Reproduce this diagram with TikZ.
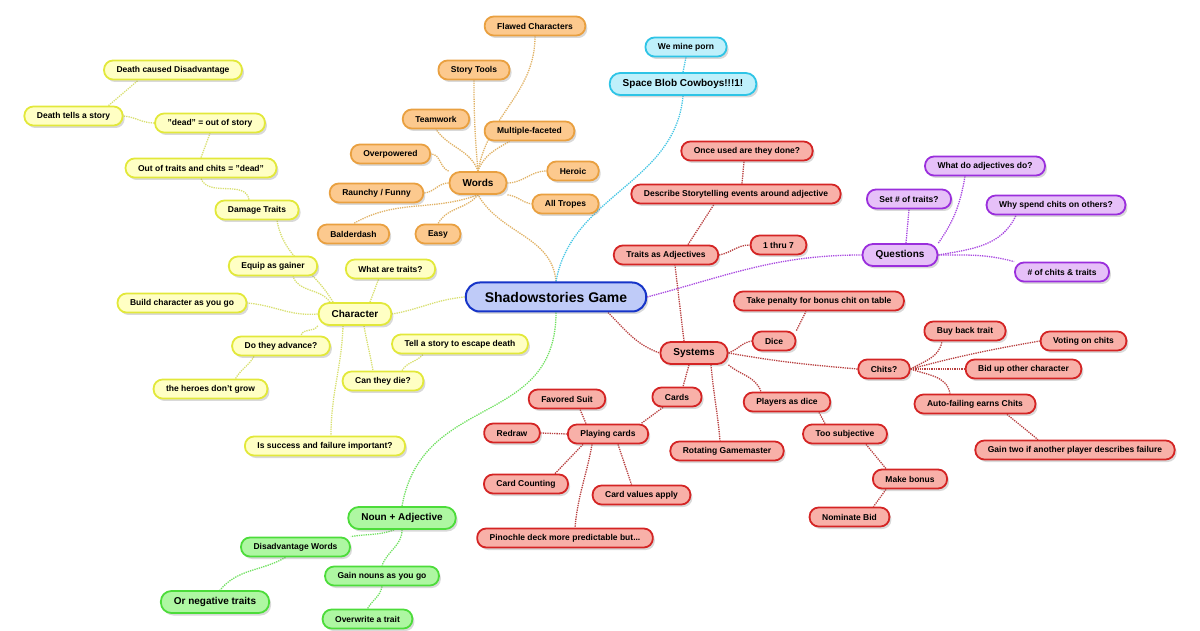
\documentclass[tikz,border=0pt]{standalone}
\usepackage{fontspec}
\setmainfont{Liberation Sans}
\usepackage{tikz}
\usetikzlibrary{backgrounds}
\usetikzlibrary{shadows}
\usepackage{xcolor}
\definecolor{yelFill}{HTML}{FFFFC4}
\definecolor{yelDraw}{HTML}{E2E83A}
\definecolor{yelLink}{HTML}{D8DF70}
\definecolor{orgFill}{HTML}{FCC98E}
\definecolor{orgDraw}{HTML}{E9A040}
\definecolor{orgLink}{HTML}{E0B266}
\definecolor{cyaFill}{HTML}{BFF0FB}
\definecolor{cyaDraw}{HTML}{2EC4E6}
\definecolor{cyaLink}{HTML}{46C6E4}
\definecolor{redFill}{HTML}{F8B0A8}
\definecolor{redDraw}{HTML}{D42424}
\definecolor{redLink}{HTML}{B84040}
\definecolor{purFill}{HTML}{E6C0F8}
\definecolor{purDraw}{HTML}{9A2EDC}
\definecolor{purLink}{HTML}{A848E0}
\definecolor{grnFill}{HTML}{AEF7A2}
\definecolor{grnDraw}{HTML}{4CDC3A}
\definecolor{grnLink}{HTML}{70E060}
\definecolor{bluFill}{HTML}{BFCBF8}
\definecolor{bluDraw}{HTML}{1634C8}
\tikzset{mybox/.style={draw, line width=1.8pt, rounded corners=9pt, minimum height=19pt, inner xsep=12.5pt, inner ysep=2pt, font=\fontsize{8.5}{10}\selectfont\bfseries, drop shadow={opacity=0.3, shadow xshift=2pt, shadow yshift=-2.5pt}}}
\tikzset{myboxBig/.style={minimum height=22pt, rounded corners=10.5pt, inner xsep=13pt, font=\fontsize{10}{12}\selectfont\bfseries}}
\tikzset{myboxYel/.style={mybox, draw=yelDraw, fill=yelFill}}
\tikzset{myboxOrg/.style={mybox, draw=orgDraw, fill=orgFill}}
\tikzset{myboxCya/.style={mybox, draw=cyaDraw, fill=cyaFill}}
\tikzset{myboxRed/.style={mybox, draw=redDraw, fill=redFill}}
\tikzset{myboxPur/.style={mybox, draw=purDraw, fill=purFill}}
\tikzset{myboxGrn/.style={mybox, draw=grnDraw, fill=grnFill}}
\tikzset{myboxCtr/.style={mybox, draw=bluDraw, fill=bluFill, line width=2pt, minimum height=29pt, rounded corners=14pt, inner xsep=19pt, font=\fontsize{14}{16}\selectfont\bfseries}}
\tikzset{mylink/.style={densely dotted, line width=1.3pt}}
\tikzset{mylinkYel/.style={mylink, yelLink}}
\tikzset{mylinkOrg/.style={mylink, orgLink}}
\tikzset{mylinkCya/.style={mylink, cyaLink}}
\tikzset{mylinkRed/.style={mylink, redLink}}
\tikzset{mylinkPur/.style={mylink, purLink}}
\tikzset{mylinkGrn/.style={mylink, grnLink}}

\begin{document}
\begin{tikzpicture}[x=1pt, y=1pt]

\useasboundingbox (0, 0) rectangle (1200, 630);

\node[myboxCtr] (ctr) at (556, 333) {Shadowstories Game};

% words
\node[myboxOrg, myboxBig] (words) at (478, 447) {Words};
\node[myboxOrg] (flawed) at (535, 604) {Flawed Characters};
\node[myboxOrg] (storytools) at (474, 560) {Story Tools};
\node[myboxOrg] (teamwork) at (436, 511) {Teamwork};
\node[myboxOrg] (multi) at (529.5, 499) {Multiple-faceted};
\node[myboxOrg] (overpowered) at (390.5, 476) {Overpowered};
\node[myboxOrg] (heroic) at (573, 459) {Heroic};
\node[myboxOrg] (raunchy) at (376.5, 437) {Raunchy / Funny};
\node[myboxOrg] (tropes) at (565.5, 426) {All Tropes};
\node[myboxOrg] (balderdash) at (353.5, 396) {Balderdash};
\node[myboxOrg] (easy) at (438, 396) {Easy};

\node[myboxCya] (mineporn) at (686, 583) {We mine porn};
\node[myboxCya, myboxBig] (spaceblob) at (683, 546) {Space Blob Cowboys!!!1!};

% character
\node[myboxYel, myboxBig] (character) at (355, 316) {Character};
\node[myboxYel] (deathdis) at (173, 560) {Death caused Disadvantage};
\node[myboxYel] (deathtells) at (73.5, 514) {Death tells a story};
\node[myboxYel] (deadout) at (210, 507) {"dead" = out of story};
\node[myboxYel] (outoftraits) at (201, 462) {Out of traits and chits = "dead"};
\node[myboxYel] (damage) at (257, 420) {Damage Traits};
\node[myboxYel] (equip) at (273, 364) {Equip as gainer};
\node[myboxYel] (whattraits) at (390.5, 361) {What are traits?};
\node[myboxYel] (build) at (182, 327) {Build character as you go};
\node[myboxYel] (advance) at (281, 284) {Do they advance?};
\node[myboxYel] (escape) at (460, 286) {Tell a story to escape death};
\node[myboxYel] (heroes) at (210.5, 241) {the heroes don't grow};
\node[myboxYel] (die) at (383, 249) {Can they die?};
\node[myboxYel] (success) at (325, 184) {Is success and failure important?};

% noun
\node[myboxGrn, myboxBig] (noun) at (402, 112) {Noun + Adjective};
\node[myboxGrn] (disadv) at (295.5, 83) {Disadvantage Words};
\node[myboxGrn, myboxBig] (negative) at (215, 28) {Or negative traits};
\node[myboxGrn] (gainnouns) at (382, 54) {Gain nouns as you go};
\node[myboxGrn] (overwrite) at (367.5, 11) {Overwrite a trait};

% systems
\node[myboxRed, myboxBig] (systems) at (694, 277) {Systems};
\node[myboxRed] (onceused) at (747, 479) {Once used are they done?};
\node[myboxRed] (describe) at (736, 436) {Describe Storytelling events around adjective};
\node[myboxRed] (adjectives) at (666, 375) {Traits as Adjectives};
\node[myboxRed] (thru) at (778.5, 385) {1 thru 7};
\node[myboxRed] (penalty) at (819, 329) {Take penalty for bonus chit on table};
\node[myboxRed] (dice) at (774, 289) {Dice};
\node[myboxRed] (chits) at (884, 261) {Chits?};
\node[myboxRed] (buyback) at (965, 299) {Buy back trait};
\node[myboxRed] (voting) at (1083.5, 289) {Voting on chits};
\node[myboxRed] (bidup) at (1023.5, 261) {Bid up other character};
\node[myboxRed] (autofail) at (975, 226) {Auto-failing earns Chits};
\node[myboxRed] (gaintwo) at (1075, 180) {Gain two if another player describes failure};
\node[myboxRed] (cards) at (677, 233) {Cards};
\node[myboxRed] (favored) at (567, 231) {Favored Suit};
\node[myboxRed] (players) at (787, 228) {Players as dice};
\node[myboxRed] (redraw) at (512, 197) {Redraw};
\node[myboxRed] (playing) at (608, 196) {Playing cards};
\node[myboxRed] (subjective) at (845, 196) {Too subjective};
\node[myboxRed] (rotating) at (727, 179) {Rotating Gamemaster};
\node[myboxRed] (counting) at (526, 146) {Card Counting};
\node[myboxRed] (values) at (641.5, 135) {Card values apply};
\node[myboxRed] (makebonus) at (910, 151) {Make bonus};
\node[myboxRed] (nominate) at (849.5, 113) {Nominate Bid};
\node[myboxRed] (pinochle) at (565, 92) {Pinochle deck more predictable but...};

% questions
\node[myboxPur, myboxBig] (questions) at (900, 375) {Questions};
\node[myboxPur] (adjdo) at (985, 464) {What do adjectives do?};
\node[myboxPur] (settraits) at (909, 431) {Set \# of traits?};
\node[myboxPur] (whyspend) at (1056, 425) {Why spend chits on others?};
\node[myboxPur] (numchits) at (1062, 358) {\# of chits \& traits};

\begin{scope}[on background layer]
\draw[mylinkOrg] (ctr.north) to[out=95, in=-60] (words.south);
\draw[mylinkOrg] (words.north) to[out=80, in=-90] (flawed.south);
\draw[mylinkOrg] (words.north) to[out=95, in=-90] (storytools.south);
\draw[mylinkOrg] (words.north) to[out=110, in=-55] (teamwork.south);
\draw[mylinkOrg] (words.north) to[out=70, in=-150] ([xshift=-20pt]multi.south);
\draw[mylinkOrg] (words.north west) to[out=160, in=0] (overpowered.east);
\draw[mylinkOrg] (words.west) to[out=180, in=5] (raunchy.east);
\draw[mylinkOrg] (words.east) to[out=0, in=180] (heroic.west);
\draw[mylinkOrg] (words.south east) to[out=-5, in=170] (tropes.west);
\draw[mylinkOrg] (words.south) to[out=-160, in=30] (balderdash.north);
\draw[mylinkOrg] (words.south) to[out=-130, in=60] (easy.north);

\draw[mylinkCya] (ctr.north) to[out=80, in=-95] (spaceblob.south);
\draw[mylinkCya] (spaceblob.north) -- (mineporn.south);

\draw[mylinkYel] (ctr.west) to[out=185, in=10] (character.east);
\draw[mylinkYel] ([xshift=15pt]character.north) -- ([xshift=-12pt]whattraits.south);
\draw[mylinkYel] ([xshift=-25pt]character.north) to[out=125, in=-70] ([xshift=20pt]equip.south);
\draw[mylinkYel] ([xshift=-22pt]character.north) to[out=120, in=-80] ([xshift=20pt]damage.south);
\draw[mylinkYel] ([xshift=-8pt]damage.north) to[out=100, in=-70] (outoftraits.south);
\draw[mylinkYel] (outoftraits.north) -- (deadout.south);
\draw[mylinkYel] (deadout.west) to[out=180, in=-5] (deathtells.east);
\draw[mylinkYel] ([xshift=35pt]deathtells.north) -- ([xshift=-35pt]deathdis.south);
\draw[mylinkYel] (character.west) to[out=185, in=-5] (build.east);
\draw[mylinkYel] (character.south west) to[out=-120, in=80] ([xshift=20pt]advance.north);
\draw[mylinkYel] ([xshift=-27pt]advance.south) to[out=-120, in=60] ([xshift=25pt]heroes.north);
\draw[mylinkYel] ([xshift=9pt]character.south) to[out=-80, in=100] ([xshift=-10pt]die.north);
\draw[mylinkYel] ([xshift=19pt]die.north) to[out=60, in=-130] ([xshift=-37pt]escape.south);
\draw[mylinkYel] ([xshift=-12pt]character.south) to[out=-92, in=90] ([xshift=6pt]success.north);

\draw[mylinkGrn] (ctr.south) to[out=-90, in=80, looseness=1.2] (noun.north);
\draw[mylinkGrn] ([xshift=-8pt]noun.south) to[out=-160, in=10] (disadv.north east);
\draw[mylinkGrn] ([xshift=-10pt]disadv.south) to[out=-150, in=50] ([xshift=5pt]negative.north);
\draw[mylinkGrn] (noun.south) to[out=-90, in=70] (gainnouns.north);
\draw[mylinkGrn] (gainnouns.south) to[out=-100, in=60] (overwrite.north);

\draw[mylinkRed] ([xshift=52pt]ctr.south) to[out=-45, in=160] (systems.west);
\draw[mylinkRed] ([xshift=-10pt]systems.north) -- ([xshift=9pt]adjectives.south);
\draw[mylinkRed] ([xshift=22pt]adjectives.north) -- ([xshift=-22pt]describe.south);
\draw[mylinkRed] ([xshift=6pt]describe.north) -- ([xshift=-3pt]onceused.south);
\draw[mylinkRed] (adjectives.east) to[out=10, in=180] (thru.west);
\draw[mylinkRed] (systems.east) to[out=20, in=190] (dice.west);
\draw[mylinkRed] (dice.north east) -- ([xshift=-13pt]penalty.south);
\draw[mylinkRed] (systems.east) to[out=-10, in=175] (chits.west);
\draw[mylinkRed] (chits.east) to[out=30, in=-100] ([xshift=-23pt]buyback.south);
\draw[mylinkRed] (chits.east) to[out=15, in=190] (voting.west);
\draw[mylinkRed] (chits.east) -- (bidup.west);
\draw[mylinkRed] (chits.east) to[out=-20, in=100] ([xshift=-25pt]autofail.north);
\draw[mylinkRed] ([xshift=32pt]autofail.south) -- ([xshift=-37pt]gaintwo.north);
\draw[mylinkRed] ([xshift=-5pt]systems.south) -- ([xshift=6pt]cards.north);
\draw[mylinkRed] ([xshift=-14pt]cards.south) -- ([xshift=33pt]playing.north);
\draw[mylinkRed] ([xshift=-22pt]playing.north) -- ([xshift=13pt]favored.south);
\draw[mylinkRed] (playing.west) -- (redraw.east);
\draw[mylinkRed] ([xshift=-25pt]playing.south) -- ([xshift=29pt]counting.north);
\draw[mylinkRed] ([xshift=10pt]playing.south) -- ([xshift=-10pt]values.north);
\draw[mylinkRed] ([xshift=-16pt]playing.south) to[out=-100, in=85] ([xshift=10pt]pinochle.north);
\draw[mylinkRed] ([xshift=17pt]systems.south) to[out=-85, in=95] ([xshift=-7pt]rotating.north);
\draw[mylinkRed] (systems.south east) to[out=-40, in=110] ([xshift=-26pt]players.north);
\draw[mylinkRed] ([xshift=32pt]players.south) -- ([xshift=-20pt]subjective.north);
\draw[mylinkRed] ([xshift=21pt]subjective.south) -- ([xshift=-24pt]makebonus.north);
\draw[mylinkRed] ([xshift=-24pt]makebonus.south) -- ([xshift=24pt]nominate.north);

\draw[mylinkPur] (ctr.east) to[out=15, in=180] (questions.west);
\draw[mylinkPur] ([xshift=6pt]questions.north) -- (settraits.south);
\draw[mylinkPur] (questions.north east) to[out=55, in=-100] ([xshift=-20pt]adjdo.south);
\draw[mylinkPur] (questions.east) to[out=10, in=-115] ([xshift=-40pt]whyspend.south);
\draw[mylinkPur] (questions.east) to[out=0, in=165] (numchits.north west);
\end{scope}

\end{tikzpicture}
\end{document}
